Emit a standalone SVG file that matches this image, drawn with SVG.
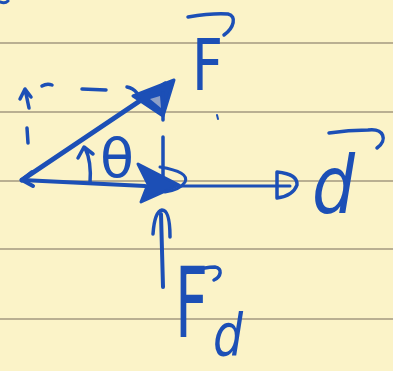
<svg xmlns="http://www.w3.org/2000/svg" width="393" height="371" viewBox="0 0 393 371">
<style>
.rule{stroke:#b9af92;stroke-width:2}
.ink{stroke:#1c4fb6;fill:none;stroke-linecap:round;stroke-linejoin:round}
.fillink{fill:#1c4fb6;stroke:#1c4fb6;stroke-width:3;stroke-linejoin:round}
.lbl{font-family:"DejaVu Sans",sans-serif;fill:#1c4fb6}
</style>
<rect width="393" height="371" fill="#fbf3c8"/>
<g id="paper">
<line class="rule" x1="0" y1="43" x2="393" y2="43"/>
<line class="rule" x1="0" y1="112" x2="393" y2="112"/>
<line class="rule" x1="0" y1="181" x2="393" y2="181"/>
<line class="rule" x1="0" y1="249" x2="393" y2="249"/>
<line class="rule" x1="0" y1="319" x2="393" y2="319"/>
</g>
<g id="connectors">
<path class="ink" stroke-width="3" d="M0,2 Q5,4 8,1"/>
<path class="ink" stroke-width="5" d="M22,180 L165,84"/>
<polygon class="fillink" points="174,80 133,96 163,116"/>
<polygon points="150,99 160,96 161,108" fill="#8da0c8"/>
<path class="ink" stroke-width="4" d="M22,180 L32,172 M22,180 L33,186"/>
<path class="ink" stroke-width="3.5" d="M42,86 Q47,83 52,85 M82,89 L106,90 M127,87 Q133,88 137,93 M163,93 L163,120 M163,137 L163,176 M27,128 L28,143"/>
<path class="ink" stroke-width="3.5" d="M29,108 L25,89 M20,99 L25,89 L31,97"/>
<path class="ink" stroke-width="4" d="M22,180 L145,186"/>
<polygon class="fillink" points="138,164 179,185 141,202 148,184"/>
<path class="ink" stroke-width="3" d="M160,167 Q190,172 185,182 Q180,190 165,192"/>
<path class="ink" stroke-width="3" d="M175,186 L290,186"/>
<path class="ink" stroke-width="3.5" d="M277,172 L277,198 M277,172 Q298,174 297,185 Q293,196 277,198"/>
<path class="ink" stroke-width="4" d="M163,287 L161,214"/>
<path class="ink" stroke-width="3.5" d="M153,234 C154,220 157,211 162,210 C168,210 170,222 170,237"/>
<path class="ink" stroke-width="3.5" d="M90,183 C91,170 90,158 85,148 M78,158 L84,147 L93,154"/>
<path class="ink" stroke-width="2" d="M217,115 L218,119"/>
<path class="ink" stroke-width="3.5" d="M188,17 C200,15 215,13 228,14 C237,16 234,28 224,35"/>
<path class="ink" stroke-width="3.5" d="M329,133 C342,131 355,130 368,130 C384,128 388,140 377,148"/>
<path class="ink" stroke-width="3.5" d="M184,273 C195,270 205,267 215,267 C223,268 221,277 214,280"/>
</g>
<g id="label-F"><text class="lbl" x="192" y="90" font-size="72" textLength="31" lengthAdjust="spacingAndGlyphs">F</text></g>
<g id="label-theta"><text class="lbl" x="100" y="177" font-size="54" textLength="34" lengthAdjust="spacingAndGlyphs">θ</text></g>
<g id="label-d"><text class="lbl" x="312" y="213" font-size="80" font-style="italic" textLength="43" lengthAdjust="spacingAndGlyphs">d</text></g>
<g id="label-Fd"><text class="lbl" x="175" y="337" font-size="98" textLength="33" lengthAdjust="spacingAndGlyphs">F</text><text class="lbl" x="213" y="356" font-size="58" font-style="italic" textLength="30" lengthAdjust="spacingAndGlyphs">d</text></g>
</svg>
